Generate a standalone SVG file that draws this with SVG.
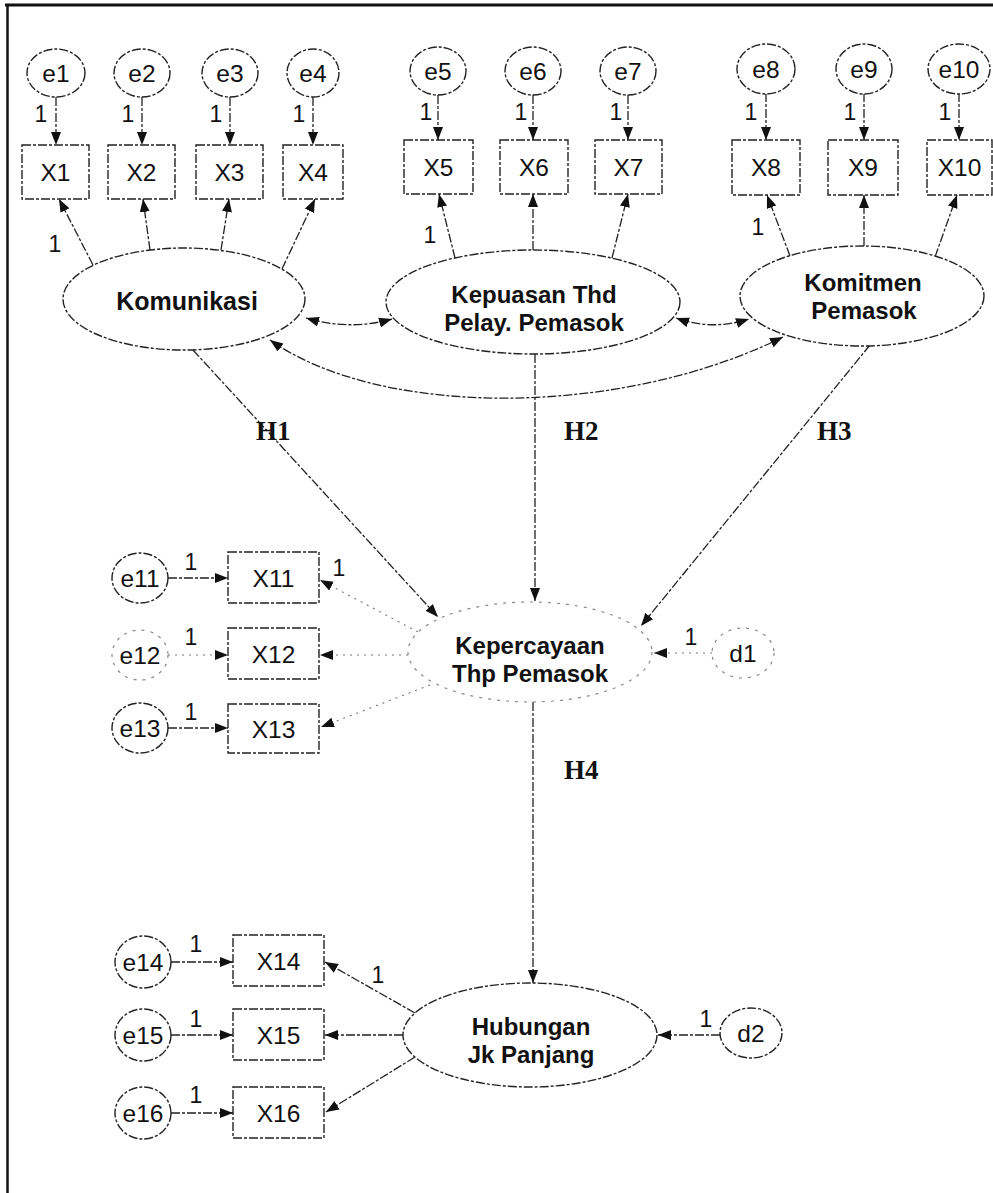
<svg xmlns="http://www.w3.org/2000/svg" width="993" height="1193" viewBox="0 0 993 1193">
<style>
.sh{fill:#fff;stroke:#222;stroke-width:1.4;stroke-dasharray:9 2 3 2}
.faint{fill:#fff;stroke:#888;stroke-width:1.2;stroke-dasharray:3 6}
.ln{fill:none;stroke:#222;stroke-width:1.3;stroke-dasharray:9 2 3 2}
.lnf{fill:none;stroke:#777;stroke-width:1.1;stroke-dasharray:2 5}
.t{font-family:"Liberation Sans",Arial,sans-serif;font-size:24.5px;fill:#111;text-anchor:middle}
.b{font-family:"Liberation Sans",Arial,sans-serif;font-size:25px;font-weight:bold;fill:#111;text-anchor:middle}
.b2{font-family:"Liberation Sans",Arial,sans-serif;font-size:24px;font-weight:bold;fill:#111;text-anchor:middle}
.one{font-family:"Liberation Sans",Arial,sans-serif;font-size:23px;fill:#111;text-anchor:middle}
.h{font-family:"Liberation Serif","Times New Roman",serif;font-size:27px;font-weight:bold;fill:#111}
</style>
<defs>
<marker id="a" markerUnits="userSpaceOnUse" markerWidth="14" markerHeight="11" refX="13" refY="5" orient="auto-start-reverse">
<path d="M0,0 L13,5 L0,10 z" fill="#111"/>
</marker>
</defs>
<rect width="993" height="1193" fill="#fff"/>
<g id="frame">
<line x1="5" y1="5" x2="993" y2="5" stroke="#111" stroke-width="3"/>
<line x1="7.5" y1="5" x2="7.5" y2="1193" stroke="#111" stroke-width="2.5"/>
</g>

<g id="connectors">
<line class="ln" x1="56" y1="97" x2="56" y2="145" marker-end="url(#a)"/>
<line class="ln" x1="142" y1="97" x2="142" y2="145" marker-end="url(#a)"/>
<line class="ln" x1="230" y1="97" x2="230" y2="145" marker-end="url(#a)"/>
<line class="ln" x1="313" y1="97" x2="313" y2="145" marker-end="url(#a)"/>
<line class="ln" x1="438" y1="95" x2="438" y2="140" marker-end="url(#a)"/>
<line class="ln" x1="533" y1="95" x2="533" y2="140" marker-end="url(#a)"/>
<line class="ln" x1="628" y1="95" x2="628" y2="140" marker-end="url(#a)"/>
<line class="ln" x1="766" y1="93" x2="766" y2="140" marker-end="url(#a)"/>
<line class="ln" x1="864" y1="93" x2="864" y2="140" marker-end="url(#a)"/>
<line class="ln" x1="959" y1="93" x2="959" y2="140" marker-end="url(#a)"/>
<line class="ln" x1="93" y1="265" x2="59" y2="199" marker-end="url(#a)"/>
<line class="ln" x1="150" y1="250" x2="143" y2="199" marker-end="url(#a)"/>
<line class="ln" x1="221" y1="250" x2="229" y2="199" marker-end="url(#a)"/>
<line class="ln" x1="282" y1="269" x2="315" y2="199" marker-end="url(#a)"/>
<line class="ln" x1="455" y1="258" x2="439" y2="194" marker-end="url(#a)"/>
<line class="ln" x1="533" y1="250" x2="533" y2="194" marker-end="url(#a)"/>
<line class="ln" x1="612" y1="258" x2="628" y2="194" marker-end="url(#a)"/>
<line class="ln" x1="790" y1="256" x2="767" y2="195" marker-end="url(#a)"/>
<line class="ln" x1="864" y1="246" x2="864" y2="195" marker-end="url(#a)"/>
<line class="ln" x1="935" y1="257" x2="957" y2="195" marker-end="url(#a)"/>
<path class="ln" d="M306 318 Q350 331 392 319" marker-start="url(#a)" marker-end="url(#a)"/>
<path class="ln" d="M676 318 Q712 331 749 319" marker-start="url(#a)" marker-end="url(#a)"/>
<path class="ln" d="M270 340 C380 418 620 418 783 337" marker-start="url(#a)" marker-end="url(#a)"/>
<line class="ln" x1="193" y1="350" x2="438" y2="617" marker-end="url(#a)"/>
<line class="ln" x1="535" y1="354" x2="535" y2="601" marker-end="url(#a)"/>
<line class="ln" x1="870" y1="345" x2="641" y2="626" marker-end="url(#a)"/>
<line class="ln" x1="533" y1="702" x2="533" y2="983" marker-end="url(#a)"/>
<line class="ln" x1="168" y1="578" x2="228" y2="578" marker-end="url(#a)"/>
<line class="lnf" x1="168" y1="655" x2="228" y2="655" marker-end="url(#a)"/>
<line class="ln" x1="168" y1="728" x2="228" y2="728" marker-end="url(#a)"/>
<line class="lnf" x1="418" y1="632" x2="320" y2="580" marker-end="url(#a)"/>
<line class="lnf" x1="408" y1="655" x2="320" y2="655" marker-end="url(#a)"/>
<line class="lnf" x1="430" y1="685" x2="321" y2="727" marker-end="url(#a)"/>
<line class="lnf" x1="712" y1="653" x2="654" y2="653" marker-end="url(#a)"/>
<line class="ln" x1="171" y1="962" x2="233" y2="962" marker-end="url(#a)"/>
<line class="ln" x1="171" y1="1035" x2="233" y2="1035" marker-end="url(#a)"/>
<line class="ln" x1="171" y1="1113" x2="233" y2="1113" marker-end="url(#a)"/>
<line class="ln" x1="415" y1="1013" x2="325" y2="962" marker-end="url(#a)"/>
<line class="ln" x1="403" y1="1035" x2="325" y2="1035" marker-end="url(#a)"/>
<line class="ln" x1="415" y1="1057" x2="326" y2="1112" marker-end="url(#a)"/>
<line class="ln" x1="720" y1="1035" x2="658" y2="1035" marker-end="url(#a)"/>
</g>

<g id="labels">
<text class="one" x="41" y="122">1</text>
<text class="one" x="128" y="122">1</text>
<text class="one" x="216" y="122">1</text>
<text class="one" x="299" y="122">1</text>
<text class="one" x="426" y="120">1</text>
<text class="one" x="521" y="120">1</text>
<text class="one" x="616" y="120">1</text>
<text class="one" x="751" y="120">1</text>
<text class="one" x="850" y="120">1</text>
<text class="one" x="945" y="120">1</text>
<text class="one" x="55" y="252">1</text>
<text class="one" x="430" y="243">1</text>
<text class="one" x="758" y="235">1</text>
<text class="one" x="191" y="570">1</text>
<text class="one" x="191" y="645">1</text>
<text class="one" x="191" y="720">1</text>
<text class="one" x="339" y="576">1</text>
<text class="one" x="691" y="645">1</text>
<text class="one" x="196" y="952">1</text>
<text class="one" x="196" y="1027">1</text>
<text class="one" x="196" y="1103">1</text>
<text class="one" x="378" y="983">1</text>
<text class="one" x="706" y="1027">1</text>
<text class="h" x="256" y="440">H1</text>
<text class="h" x="564" y="440">H2</text>
<text class="h" x="817" y="440">H3</text>
<text class="h" x="564" y="779">H4</text>
</g>

<g id="e1"><ellipse class="sh" cx="56" cy="73" rx="29" ry="24"/><text class="t" x="56" y="82">e1</text></g>
<g id="e2"><ellipse class="sh" cx="142" cy="73" rx="28" ry="24"/><text class="t" x="142" y="82">e2</text></g>
<g id="e3"><ellipse class="sh" cx="230" cy="73" rx="28" ry="24"/><text class="t" x="230" y="82">e3</text></g>
<g id="e4"><ellipse class="sh" cx="313" cy="73" rx="26" ry="24"/><text class="t" x="313" y="82">e4</text></g>
<g id="e5"><ellipse class="sh" cx="438" cy="71" rx="28" ry="24"/><text class="t" x="438" y="80">e5</text></g>
<g id="e6"><ellipse class="sh" cx="533" cy="71" rx="28" ry="24"/><text class="t" x="533" y="80">e6</text></g>
<g id="e7"><ellipse class="sh" cx="628" cy="71" rx="28" ry="24"/><text class="t" x="628" y="80">e7</text></g>
<g id="e8"><ellipse class="sh" cx="766" cy="69" rx="29" ry="25"/><text class="t" x="766" y="78">e8</text></g>
<g id="e9"><ellipse class="sh" cx="864" cy="69" rx="28" ry="25"/><text class="t" x="864" y="78">e9</text></g>
<g id="e10"><ellipse class="sh" cx="959" cy="69" rx="31" ry="25"/><text class="t" x="959" y="78">e10</text></g>

<g id="X1"><rect class="sh" x="22" y="145" width="67" height="54"/><text class="t" x="55.5" y="181">X1</text></g>
<g id="X2"><rect class="sh" x="108" y="145" width="67" height="54"/><text class="t" x="141.5" y="181">X2</text></g>
<g id="X3"><rect class="sh" x="196" y="145" width="67" height="54"/><text class="t" x="229.5" y="181">X3</text></g>
<g id="X4"><rect class="sh" x="283" y="145" width="60" height="54"/><text class="t" x="313" y="181">X4</text></g>
<g id="X5"><rect class="sh" x="404" y="140" width="69" height="54"/><text class="t" x="438.5" y="176">X5</text></g>
<g id="X6"><rect class="sh" x="500" y="140" width="68" height="54"/><text class="t" x="534" y="176">X6</text></g>
<g id="X7"><rect class="sh" x="595" y="140" width="67" height="54"/><text class="t" x="628.5" y="176">X7</text></g>
<g id="X8"><rect class="sh" x="732" y="140" width="68" height="55"/><text class="t" x="766" y="176">X8</text></g>
<g id="X9"><rect class="sh" x="828" y="140" width="70" height="55"/><text class="t" x="863" y="176">X9</text></g>
<g id="X10"><rect class="sh" x="927" y="140" width="65" height="55"/><text class="t" x="959.5" y="176">X10</text></g>

<g id="Komunikasi"><ellipse class="sh" cx="184" cy="299" rx="121" ry="51"/><text class="b" x="187" y="310">Komunikasi</text></g>
<g id="Kepuasan"><ellipse class="sh" cx="533" cy="302" rx="147" ry="52"/><text class="b2" x="534" y="303">Kepuasan Thd</text><text class="b2" x="534" y="331">Pelay. Pemasok</text></g>
<g id="Komitmen"><ellipse class="sh" cx="862" cy="296" rx="122" ry="50"/><text class="b2" x="863" y="291">Komitmen</text><text class="b2" x="864" y="319">Pemasok</text></g>

<g id="Kepercayaan"><ellipse class="faint" cx="530" cy="652" rx="122" ry="50"/><text class="b2" x="530" y="654">Kepercayaan</text><text class="b2" x="530" y="682">Thp Pemasok</text></g>
<g id="d1"><ellipse class="faint" cx="743" cy="653" rx="31" ry="25"/><text class="t" x="743" y="662">d1</text></g>
<g id="e11"><ellipse class="sh" cx="140" cy="578" rx="28" ry="25"/><text class="t" x="140" y="587">e11</text></g>
<g id="e12"><ellipse class="faint" cx="140" cy="655" rx="28" ry="25"/><text class="t" x="140" y="664">e12</text></g>
<g id="e13"><ellipse class="sh" cx="140" cy="728" rx="28" ry="25"/><text class="t" x="140" y="737">e13</text></g>
<g id="X11"><rect class="sh" x="228" y="552" width="91" height="51"/><text class="t" x="273.5" y="587">X11</text></g>
<g id="X12"><rect class="sh" x="228" y="628" width="91" height="51"/><text class="t" x="273.5" y="663">X12</text></g>
<g id="X13"><rect class="sh" x="228" y="704" width="91" height="49"/><text class="t" x="273.5" y="738">X13</text></g>

<g id="Hubungan"><ellipse class="sh" cx="530" cy="1035" rx="127" ry="52"/><text class="b2" x="531" y="1035">Hubungan</text><text class="b2" x="531" y="1063">Jk Panjang</text></g>
<g id="d2"><ellipse class="sh" cx="751" cy="1033" rx="31" ry="25"/><text class="t" x="751" y="1042">d2</text></g>
<g id="e14"><ellipse class="sh" cx="143" cy="962" rx="28" ry="26"/><text class="t" x="143" y="971">e14</text></g>
<g id="e15"><ellipse class="sh" cx="143" cy="1035" rx="28" ry="26"/><text class="t" x="143" y="1044">e15</text></g>
<g id="e16"><ellipse class="sh" cx="143" cy="1113" rx="28" ry="26"/><text class="t" x="143" y="1122">e16</text></g>
<g id="X14"><rect class="sh" x="233" y="935" width="91" height="51"/><text class="t" x="278.5" y="970">X14</text></g>
<g id="X15"><rect class="sh" x="233" y="1009" width="91" height="51"/><text class="t" x="278.5" y="1044">X15</text></g>
<g id="X16"><rect class="sh" x="233" y="1087" width="91" height="51"/><text class="t" x="278.5" y="1122">X16</text></g>
</svg>
